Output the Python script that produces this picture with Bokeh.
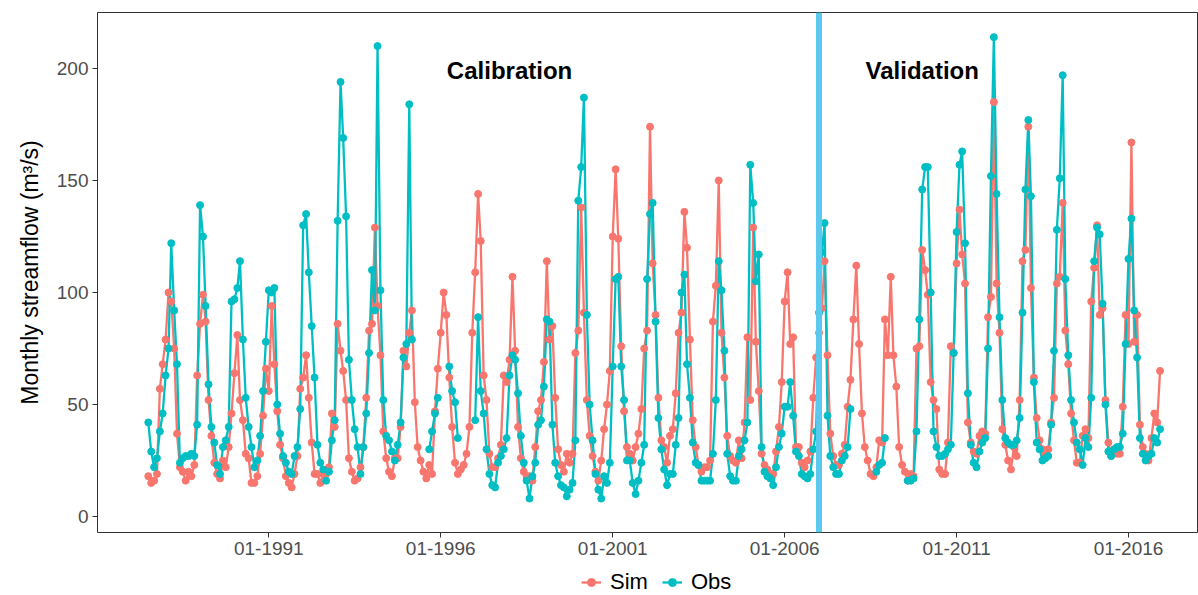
import numpy as np
import pandas as pd
from bokeh.plotting import figure
from bokeh.layouts import column
from bokeh.models import (Range1d, FixedTicker, DatetimeTickFormatter, Legend,
                          LegendItem, Span, ColumnDataSource)
from bokeh.embed import file_html
from bokeh.resources import INLINE
from bokeh.core.properties import value

nan = float("nan")

# ---------------- data (monthly, starting Jul 1987) ----------------
start_month = "1987-07-01"

sim = [
    18, 15, 16, 19, 57, 68, 79, 100, 96, 75, 37, 22,
    20, 16, 20, 18, 23, 63, 86, 99, 87, 52, 36, 24,
    19, 17, 25, 22, 31, 46, 64, 81, 52, 43, 28, 26,
    15, 15, 18, 28, 45, 66, 56, 94, 68, 47, 32, 26,
    18, 15, 13, 19, 27, 57, 62, 72, 53, 33, 19, 19,
    15, 19, 19, 22, 46, 40, 86, 74, 65, 52, 26, 20,
    16, 17, 22, 31, 53, 83, 86, 129, 94, 72, 38, 26,
    20, 18, 26, 26, 40, 74, 67, 82, 92, 51, 31, 25,
    20, 17, 23, 19, 47, 66, 82, 100, 90, 62, 40, 24,
    19, 21, 23, 28, 40, 82, 109, 144, 123, 63, 52, 28,
    22, 22, 26, 32, 63, 60, 70, 107, 74, 40, 26, 20,
    18, 18, 16, 31, 47, 52, 69, 114, 79, 85, 53, 30,
    23, 20, 28, 24, 28, 73, 83, 138, 91, 52, 36, 27,
    20, 16, 25, 39, 50, 65, 125, 155, 124, 76, 47, 31,
    28, 25, 31, 37, 48, 75, 83, 174, 113, 90, 53, 34,
    31, 24, 36, 39, 55, 82, 91, 136, 120, 79, 43, 31,
    23, 20, 22, 22, 25, 87, 103, 150, 82, 62, 36, 27,
    25, 24, 34, 26, 42, 80, 52, 129, 78, 56, 28, 23,
    21, 19, 19, 29, 40, 60, 96, 109, 77, 80, 31, 31,
    24, 22, 25, 29, 53, 71, 82, 93, 114, 72, 37, 27,
    23, 23, 28, 32, 49, 61, 88, 112, 77, 46, 31, 25,
    19, 18, 22, 34, 33, 88, 72, 107, 72, 58, 31, 23,
    20, 16, 19, 18, 75, 76, 119, 110, 99, 60, 52, 48,
    21, 19, 19, 33, 76, 73, 113, 137, 117, 104, 42, 33,
    29, 28, 36, 38, 37, 89, 98, 185, 104, 82, 39, 32,
    25, 21, 31, 27, 52, 114, 119, 174, 102, 62, 44, 34,
    30, 28, 30, 42, 53, 104, 107, 140, 83, 68, 46, 34,
    24, 24, 36, 39, 35, 96, 111, 130, 90, 93, 52, 33,
    27, 30, 28, 28, 49, 90, 77, 167, 78, 90, 41, 31,
    28, 25, 35, 46, 42, 65,
]

obs = [
    42, 29, 22, 26, 38, 46, 63, 75, 122, 92, 68, 24,
    26, 27, 27, 28, 27, 41, 139, 125, 94, 59, 40, 33,
    23, 19, 31, 34, 40, 96, 97, 102, 114, 79, 53, 40,
    31, 22, 25, 36, 56, 78, 101, 100, 102, 50, 37, 27,
    24, 20, 19, 27, 31, 48, 130, 135, 109, 85, 62, 32,
    24, 21, 16, 20, 34, 43, 132, 194, 169, 134, 70, 52,
    39, 31, 19, 31, 46, 73, 110, 92, 210, 101, 52, 36,
    34, 29, 25, 32, 42, 71, 77, 184, 79, nan, nan, nan,
    nan, nan, 30, 38, 46, 53, nan, nan, nan, 67, 56, 51,
    35, nan, nan, nan, nan, nan, 43, 89, 56, 46, 30, 19,
    14, 13, 24, 27, 30, 35, 63, 72, 70, 55, 36, 24,
    16, 8, 18, 24, 41, 43, 58, 88, 87, 41, 24, 18,
    14, 13, 9, 12, 15, 34, 141, 156, 187, 90, 50, 34,
    19, 12, 8, 18, 15, 24, 67, 106, 107, 67, 52, 25,
    25, 15, 10, 16, 24, 32, 106, 135, 140, 87, 44, 30,
    21, 14, 19, 19, 32, 44, 100, 108, 68, 53, 33, 24,
    23, 16, 16, 16, 16, 28, 52, 114, 101, 74, 28, 18,
    16, 16, 27, 30, 34, 42, 157, 140, 105, 117, 31, 20,
    18, 17, 14, 22, 31, 37, 49, 49, 60, 45, 29, 27,
    19, 18, 17, 19, 30, 38, 91, 118, 131, 45, 27, 22,
    19, 19, 25, 27, 31, 48, nan, nan, nan, nan, nan, nan,
    nan, nan, 20, 23, 24, 35, nan, nan, nan, nan, nan, nan,
    nan, 16, 16, 17, 38, 88, 146, 156, 156, 100, 38, 31,
    27, 27, 28, 30, 32, 73, 127, 157, 163, 122, 55, 32,
    24, 22, 29, 33, 35, 75, 152, 214, 144, 89, 52, 35,
    33, 32, 32, 34, 44, 91, 146, 177, 143, 60, 33, 30,
    25, 26, 27, 41, 74, 128, 151, 197, 106, 72, 52, 42,
    33, 30, 23, 35, 31, 53, 114, 129, 126, 95, 50, 29,
    27, 30, 31, 31, 37, 77, 115, 133, 92, 71, 35, 28,
    25, 27, 28, 35, 33, 39,
]

series_names = ["Sim", "Obs"]
series_colors = ["#F8766D", "#00BFC4"]
y_ticks = [0, 50, 100, 150, 200]
x_tick_dates = ["1991-01-01", "1996-01-01", "2001-01-01", "2006-01-01",
                "2011-01-01", "2016-01-01"]
split_date = "2007-01-01"
period_labels = ["Calibration", "Validation"]
period_label_dates = ["1998-01-01", "2010-01-01"]
period_label_y = [199, 199]

# ---------------- build ----------------
dates = pd.date_range(start_month, periods=len(sim), freq="MS")


def to_ms(d):
    return pd.Timestamp(d).value / 1e6


src = ColumnDataSource(dict(date=dates, sim=np.array(sim, float),
                            obs=np.array(obs, float)))

W = 1198
MAIN_H = 566
LEG_H = 29

frame_left, frame_right, frame_top, frame_bottom = 97, 1197, 12, 532
t_a, t_b = to_ms(x_tick_dates[0]), to_ms(x_tick_dates[-1])
px_a, px_b = 268.3, 1128.0
ms_per_px = (t_b - t_a) / (px_b - px_a)
x_range = Range1d(t_a - (px_a - frame_left) * ms_per_px,
                  t_a + (frame_right - px_a) * ms_per_px)
y_range = Range1d(-7.14, 225.0)

FONT = "Liberation Sans"

p = figure(width=W, height=MAIN_H, x_axis_type="datetime",
           x_range=x_range, y_range=y_range,
           output_backend="svg", toolbar_location=None,
           min_border_left=frame_left, min_border_right=W - frame_right,
           min_border_top=frame_top, min_border_bottom=MAIN_H - frame_bottom)
p.background_fill_color = "white"
p.border_fill_color = "white"
p.outline_line_color = "#333333"
p.outline_line_width = 1
p.grid.visible = False

l_sim = p.line("date", "sim", source=src, line_color=series_colors[0], line_width=2.3)
l_obs = p.line("date", "obs", source=src, line_color=series_colors[1], line_width=2.3)
s_sim = p.scatter("date", "sim", source=src, size=7, fill_color=series_colors[0],
                  line_color=series_colors[0])
s_obs = p.scatter("date", "obs", source=src, size=7, fill_color=series_colors[1],
                  line_color=series_colors[1])

p.add_layout(Span(location=to_ms(split_date), dimension="height",
                  line_color="#5BC8EE", line_width=6))

p.text(x=[pd.Timestamp(d) for d in period_label_dates], y=period_label_y,
       text=period_labels, text_font=value(FONT), text_font_style="bold",
       text_font_size="24px", text_align="center", text_baseline="middle",
       text_color="black")

for ax in (p.xaxis[0], p.yaxis[0]):
    ax.axis_line_color = None
    ax.major_tick_line_color = "#333333"
    ax.major_tick_out = 5
    ax.major_tick_in = 0
    ax.minor_tick_line_color = None
    ax.major_label_text_font = FONT
    ax.major_label_text_font_size = "19px"
    ax.major_label_text_color = "#4D4D4D"
    ax.major_label_standoff = 4

p.yaxis.ticker = FixedTicker(ticks=y_ticks)
p.xaxis.ticker = FixedTicker(ticks=[to_ms(d) for d in x_tick_dates])
fmt = "%m-%Y"
p.xaxis.formatter = DatetimeTickFormatter(
    milliseconds=fmt, seconds=fmt, minsec=fmt, minutes=fmt, hourmin=fmt,
    hours=fmt, days=fmt, months=fmt, years=fmt)

p.yaxis.axis_label = "Monthly streamflow (m³/s)"
p.yaxis.axis_label_text_font = FONT
p.yaxis.axis_label_text_font_style = "normal"
p.yaxis.axis_label_text_font_size = "23px"
p.yaxis.axis_label_text_color = "black"
p.yaxis.axis_label_standoff = 11

# ---------------- legend strip below the plot ----------------
lg = figure(width=W, height=LEG_H, output_backend="svg", toolbar_location=None,
            x_range=Range1d(0, 1), y_range=Range1d(0, 1),
            min_border_left=0, min_border_right=0, min_border_top=0,
            min_border_bottom=0)
lg.axis.visible = False
lg.grid.visible = False
lg.outline_line_color = None
lg.background_fill_color = "white"
lg.border_fill_color = "white"

items = []
for name, col in zip(series_names, series_colors):
    # data placed outside the visible range: only the legend glyph shows
    rl = lg.line(x=[-5, -4], y=[-5, -4], line_color=col, line_width=2.3)
    rs = lg.scatter(x=[-5], y=[-5], size=7, fill_color=col, line_color=col)
    items.append(LegendItem(label=name, renderers=[rl, rs]))

legend = Legend(items=items, orientation="horizontal", location=(484, 0))
legend.label_text_font = FONT
legend.label_text_font_size = "22px"
legend.label_text_color = "black"
legend.glyph_width = 20
legend.glyph_height = 20
legend.spacing = 14
legend.label_standoff = 9
legend.padding = 0
legend.margin = 0
legend.border_line_color = None
legend.background_fill_alpha = 0
lg.add_layout(legend, "center")

layout = column(p, lg, spacing=0)
open("out.html", "w").write(file_html(layout, INLINE))
